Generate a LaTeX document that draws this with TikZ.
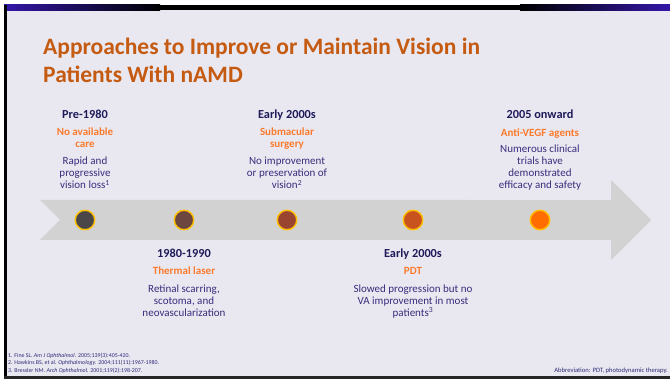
\documentclass[tikz,border=0pt]{standalone}
\usepackage{fontspec}
\setmainfont{Carlito}
\definecolor{slidebg}{HTML}{E9E8F1}
\definecolor{bandgray}{HTML}{D2D2D3}
\definecolor{titleorange}{HTML}{C55A11}
\definecolor{suborange}{HTML}{FB7A2B}
\definecolor{headnavy}{HTML}{1E1B58}
\definecolor{bodynavy}{HTML}{3A2C7C}
\definecolor{refnavy}{HTML}{2E2A78}
\definecolor{ringgold}{HTML}{FFC000}
\definecolor{barblue}{HTML}{3418A8}
\definecolor{dotA}{HTML}{4B4648}
\definecolor{dotB}{HTML}{6E4640}
\definecolor{dotC}{HTML}{9A4530}
\definecolor{dotD}{HTML}{C8531E}
\definecolor{dotE}{HTML}{FF6D00}
\begin{document}
% multi-line nodes are anchored at the baseline of their last line
\begin{tikzpicture}[x=1pt,y=-1pt,
  hd/.style={font=\fontsize{12.3}{14}\selectfont\bfseries, text=headnavy, anchor=base, inner sep=0pt},
  sub/.style={font=\fontsize{11}{11.5}\selectfont\bfseries, text=suborange, anchor=base, align=center, inner sep=0pt},
  bd/.style={font=\fontsize{11}{12}\selectfont, text=bodynavy, anchor=base, align=center, inner sep=0pt},
  dot/.style={circle, draw=ringgold, line width=1.4pt, minimum size=19.5pt, inner sep=0pt},
  ref/.style={font=\fontsize{5.9}{7.5}\selectfont, text=refnavy, inner sep=0pt}]
% page and frame
\useasboundingbox (0,0) rectangle (670,379);
\fill[white] (0,0) rectangle (670,379);
\fill[slidebg] (7,10.5) rectangle (670,376.5);
\fill[black] (4,5) rectangle (670,10.5);
\fill[left color=barblue, right color=black] (4,5) rectangle (160,10.5);
\fill[left color=black, right color=barblue] (520,5) rectangle (670,10.5);
\fill[black] (4,5) rectangle (7,379);
\fill[black!85] (4,376.5) rectangle (670,379);

% title
\node[anchor=base west, align=left, inner sep=0pt, text=titleorange,
      font=\fontsize{23.5}{28}\selectfont\bfseries] (title) at (43,83)
  {Approaches to Improve or Maintain Vision in\\Patients With nAMD};

% timeline arrow
\fill[bandgray] (40,200) -- (611,200) -- (611,180) -- (651,220) -- (611,260)
  -- (611,240) -- (40,240) -- (60,220) -- cycle;
% panel behind the last text block
\fill[slidebg] (470,100) rectangle (611,200);

% milestones
\node[dot, fill=dotA] (d1) at (85,220) {};
\node[dot, fill=dotB] (d2) at (184,220) {};
\node[dot, fill=dotC] (d3) at (287,220) {};
\node[dot, fill=dotD] (d4) at (413,220) {};
\node[dot, fill=dotE] (d5) at (540,220) {};

% upper labels
\node[hd] (h1) at (85,118.5) {Pre-1980};
\node[sub] (s1) at (85,147.5) {No available\\care};
\node[bd] (b1) at (85,189) {Rapid and\\progressive\\vision loss\textsuperscript{1}};

\node[hd] (h3) at (287,118.5) {Early 2000s};
\node[sub] (s3) at (287,147.5) {Submacular\\surgery};
\node[bd] (b3) at (287,189) {No improvement\\or preservation of\\vision\textsuperscript{2}};

\node[hd] (h5) at (540,118.5) {2005 onward};
\node[sub] (s5) at (540,136.5) {Anti-VEGF agents};
\node[bd] (b5) at (540,189) {Numerous clinical\\trials have\\demonstrated\\efficacy and safety};

% lower labels
\node[hd] (h2) at (184,257.5) {1980-1990};
\node[sub] (s2) at (184,275) {Thermal laser};
\node[bd] (b2) at (184,316.5) {Retinal scarring,\\scotoma, and\\neovascularization};

\node[hd] (h4) at (413,257.5) {Early 2000s};
\node[sub] (s4) at (413,275) {PDT};
\node[bd] (b4) at (413,316.5) {Slowed progression but no\\VA improvement in most\\patients\textsuperscript{3}};

% footnotes
\node[ref, anchor=base west, align=left] (refs) at (8,372.3)
  {1. Fine SL. \textit{Am J Ophthalmol.} 2005;139(3):405-420.\\
   2. Hawkins BS, et al. \textit{Ophthalmology.} 2004;111(11):1967-1980.\\
   3. Bressler NM. \textit{Arch Ophthalmol.} 2001;119(2):198-207.};
\node[ref, anchor=base east, font=\fontsize{6.6}{7.5}\selectfont] (abbr) at (668,372.3)
  {Abbreviation: PDT, photodynamic therapy.};
\end{tikzpicture}
\end{document}
